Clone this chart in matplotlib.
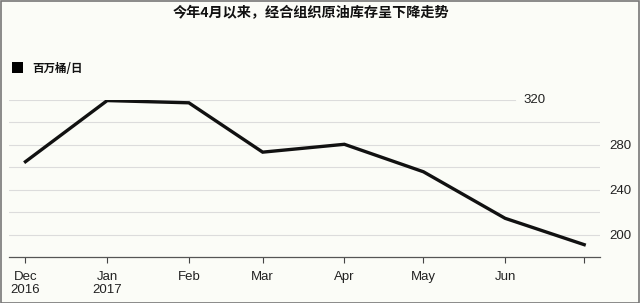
import pandas as pd
import matplotlib
matplotlib.use("Agg")
import matplotlib.pyplot as plt
from matplotlib.patches import Rectangle

# dados (milhões de barris/dia, início de cada mês)
datas = pd.to_datetime(["2016-12-01", "2017-01-01", "2017-02-01", "2017-03-01",
                        "2017-04-01", "2017-05-01", "2017-06-01", "2017-07-01"])
estoque = [265, 319.5, 317.5, 273.5, 280.5, 256, 214.5, 191]

meses_ticks = pd.to_datetime(["2016-12-01", "2017-01-01", "2017-02-01", "2017-03-01",
                              "2017-04-01", "2017-05-01", "2017-06-01", "2017-07-01"])
meses_rotulos = ["Dec\n2016", "Jan\n2017", "Feb", "Mar", "Apr", "May", "Jun", ""]
grade_y = [200, 220, 240, 260, 280, 300, 320]
rotulos_y = [200, 240, 280]

titulo = "今年4月以来，经合组织原油库存呈下降走势"
unidade = "百万桶/日"

fundo = "#fbfcf7"
cjk = ["Noto Sans CJK SC", "DejaVu Sans"]
plt.rcParams["font.family"] = ["Liberation Sans", "DejaVu Sans"]

W, H = 640, 303
fig = plt.figure(figsize=(W / 100, H / 100), dpi=100, facecolor=fundo)
ax = fig.add_axes([9 / W, 46 / H, 591 / W, 157 / H], facecolor=fundo)

# grade horizontal (a de 320 para antes do rótulo)
for g in grade_y:
    fim = 0.856 if g == 320 else 1.0
    ax.axhline(g, xmin=0, xmax=fim, color="#dcdcdc", lw=0.8, zorder=1)

ax.plot(datas, estoque, color="#111111", lw=2.4, solid_joinstyle="miter", zorder=3)

ax.set_ylim(180, 320)
ax.set_xlim(pd.Timestamp("2016-11-24 18:00"), pd.Timestamp("2017-07-07"))

ax.set_xticks(meses_ticks)
ax.set_xticklabels(meses_rotulos, fontsize=9.5, color="#222222", linespacing=1.1)
ax.tick_params(axis="x", direction="out", length=4, width=0.8, color="#444444", pad=6)

ax.yaxis.tick_right()
ax.set_yticks(rotulos_y)
ax.set_yticklabels([str(v) for v in rotulos_y], fontsize=9.5, color="#222222")
ax.tick_params(axis="y", length=0, pad=7)
for lab in ax.get_yticklabels():
    lab.set_horizontalalignment("left")

ax.text(0.871, 320, "320", transform=ax.get_yaxis_transform(), fontsize=9.5,
        color="#222222", ha="left", va="center")

for lado in ["top", "left", "right"]:
    ax.spines[lado].set_visible(False)
ax.spines["bottom"].set_color("#555555")
ax.spines["bottom"].set_linewidth(0.9)

# título e legenda
fig.text(311 / W, 1 - 13 / H, titulo, family=cjk, fontsize=10.2, fontweight="bold",
         ha="center", va="center", color="#111111")
fig.patches.append(Rectangle((12 / W, 1 - 73 / H), 11 / W, 11 / H, transform=fig.transFigure,
                             facecolor="#000000", edgecolor="none"))
fig.text(32 / W, 1 - 68 / H, unidade, family=cjk, fontsize=8.3, fontweight="bold",
         ha="left", va="center", color="#111111")

# moldura cinza da imagem
fig.patches.append(Rectangle((0.5 / W, 0.5 / H), (W - 1.5) / W, (H - 1.5) / H,
                             transform=fig.transFigure, facecolor="none",
                             edgecolor="#777777", lw=1.2))

fig.savefig("out.png", dpi=100, facecolor=fundo)
